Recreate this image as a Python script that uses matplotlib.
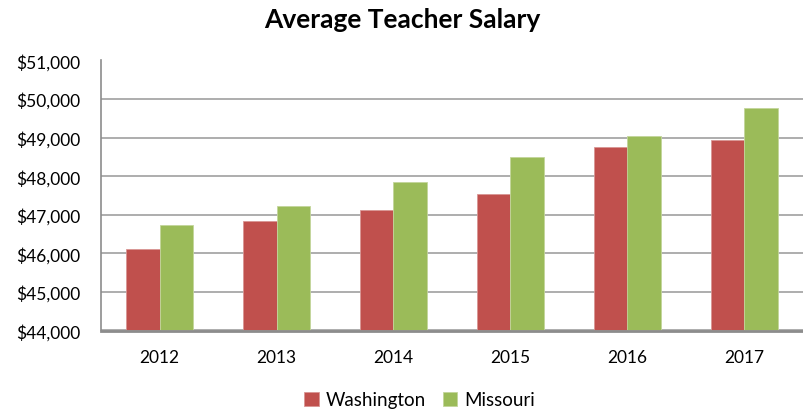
import matplotlib.pyplot as plt
import numpy as np
from matplotlib.ticker import FuncFormatter

years = ['2012', '2013', '2014', '2015', '2016', '2017']
washington = [46110, 46830, 47130, 47540, 48745, 48950]
missouri = [46730, 47240, 47850, 48490, 49055, 49765]

plt.rcParams['font.family'] = ['Lato', 'DejaVu Sans']

fig = plt.figure(figsize=(8.04, 4.14), dpi=100)
ax = fig.add_axes([101 / 804, 1 - 331.5 / 414, 702 / 804, 270 / 414])

x = np.arange(len(years))
w = 0.286
ax.bar(x - w / 2, np.array(washington) - 44000, w, bottom=44000, color='#C0504D',
       edgecolor='#D99694', linewidth=0.6, label='Washington', zorder=3)
ax.bar(x + w / 2, np.array(missouri) - 44000, w, bottom=44000, color='#9BBB59',
       edgecolor='#C3D69B', linewidth=0.6, label='Missouri', zorder=3)

ax.set_xlim(-0.5, len(years) - 0.5)
ax.set_ylim(44000, 51000)
ax.set_yticks(range(44000, 51001, 1000))
ax.yaxis.set_major_formatter(FuncFormatter(lambda v, p: '${:,.0f}'.format(v)))
ax.set_xticks(x)
ax.set_xticklabels(years)
ax.tick_params(axis='both', length=0, labelsize=12.5, colors='black')
ax.tick_params(axis='y', pad=15)
ax.tick_params(axis='x', pad=13)

ax.grid(axis='y', color='#A0A0A0', linewidth=1.2, zorder=0)
for s in ['top', 'right']:
    ax.spines[s].set_visible(False)
ax.spines['left'].set_color('#8C8C8C')
ax.spines['left'].set_linewidth(1.2)
ax.spines['bottom'].set_color('#8C8C8C')
ax.spines['bottom'].set_linewidth(2)
ax.spines['bottom'].set_zorder(4)

fig.text(0.5, 1 - 20 / 414, 'Average Teacher Salary', ha='center', va='center',
         fontsize=19, fontweight='bold')

fig.legend(loc='center', bbox_to_anchor=(420 / 804, 1 - 401 / 414), ncol=2,
           frameon=False, fontsize=13.5, handlelength=0.75, handleheight=0.75,
           handletextpad=0.4, columnspacing=0.9)

fig.savefig('out.png', dpi=100)
